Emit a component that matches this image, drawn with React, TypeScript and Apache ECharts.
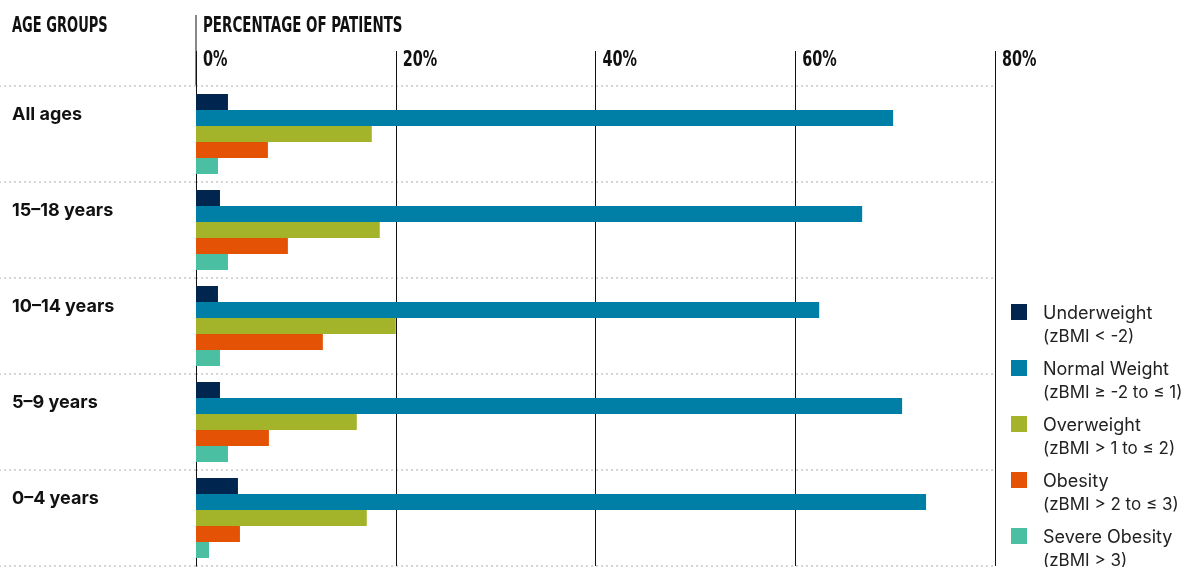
import React, { useEffect, useRef } from 'react';
import * as echarts from 'echarts';

const categories = ['All ages', '15–18 years', '10–14 years', '5–9 years', '0–4 years'];
const seriesNames = ['Underweight', 'Normal Weight', 'Overweight', 'Obesity', 'Severe Obesity'];
const seriesRanges = ['(zBMI < -2)', '(zBMI ≥ -2 to ≤ 1)', '(zBMI > 1 to ≤ 2)', '(zBMI > 2 to ≤ 3)', '(zBMI > 3)'];
const underweight = [3.2, 2.4, 2.2, 2.4, 4.2];
const normalWeight = [69.8, 66.7, 62.4, 70.7, 73.1];
const overweight = [17.6, 18.4, 20.0, 16.1, 17.1];
const obesity = [7.2, 9.2, 12.7, 7.3, 4.4];
const severeObesity = [2.2, 3.2, 2.4, 3.2, 1.3];
const seriesColors = ['#00254f', '#007fa6', '#a3b42b', '#e35205', '#4bbfa1'];
const xTicks = [0, 20, 40, 60, 80];
const xTickLabels = ['0%', '20%', '40%', '60%', '80%'];
const xMin = 0;
const xMax = 80;
const xInterval = 20;

const NARROW = '"Liberation Sans Narrow", "Arial Narrow", "DejaVu Sans Condensed", sans-serif';
const SANS = 'Inter, "Noto Sans", sans-serif';

export default function App() {
  const ref = useRef<HTMLDivElement>(null);
  useEffect(() => {
    if (!ref.current) return;
    const chart = echarts.init(ref.current, null, { renderer: 'svg' });
    const values = [underweight, normalWeight, overweight, obesity, severeObesity];
    const dotted = { color: '#d4d4d4', width: 2, type: [2, 3] as number[] };
    const headStyle = { fontFamily: NARROW, fontWeight: 'bold', fontSize: 22, fill: '#111', verticalAlign: 'middle' };
    chart.setOption({
      animation: false,
      grid: { left: 196, top: 86, width: 799, height: 480 },
      xAxis: {
        type: 'value',
        position: 'top',
        min: xMin,
        max: xMax,
        interval: xInterval,
        axisLine: { show: false },
        axisTick: { show: true, length: 35, lineStyle: { color: '#111', width: 1 } },
        splitLine: { show: true, lineStyle: { color: '#111', width: 1 } },
        axisLabel: { show: false },
      },
      yAxis: {
        type: 'category',
        inverse: true,
        data: categories,
        axisLine: { show: true, lineStyle: { color: '#111', width: 1 } },
        axisTick: { show: true, length: 196, interval: 0, lineStyle: dotted },
        splitLine: { show: true, interval: 0, lineStyle: dotted },
        axisLabel: {
          align: 'left',
          verticalAlign: 'middle',
          margin: 184,
          formatter: (v: string) => `{a|${v}}\n{b| }`,
          rich: {
            a: { fontFamily: SANS, fontWeight: 'bold', fontSize: 18, lineHeight: 22, color: '#111' },
            b: { fontSize: 2, lineHeight: 42 },
          },
        },
      },
      legend: {
        orient: 'vertical',
        left: 1011,
        top: 300,
        height: 300,
        padding: 0,
        itemGap: 8,
        itemWidth: 27,
        itemHeight: 40,
        icon: 'path://M0,0H16V16H0Z M0,40L27,40',
        data: seriesNames,
        formatter: (name: string) => `{a|${name}}\n{b|${seriesRanges[seriesNames.indexOf(name)]}}`,
        textStyle: {
          color: '#222',
          lineHeight: 24,
          rich: {
            a: { fontFamily: SANS, fontSize: 18, lineHeight: 24, color: '#222' },
            b: { fontFamily: SANS, fontSize: 17, lineHeight: 24, color: '#222' },
          },
        },
        selectedMode: false,
      },
      series: seriesNames.map((name, i) => ({
        name,
        type: 'bar',
        data: values[i],
        barWidth: 16,
        barGap: '0%',
        itemStyle: { color: seriesColors[i] },
      })),
    });
    const tickGraphics = xTicks.map((t, i) => ({
      type: 'text',
      id: 'xt' + i,
      x: (chart.convertToPixel({ xAxisIndex: 0 }, t) as number) + 7,
      y: 58.7,
      scaleX: 0.73,
      style: { ...headStyle, text: xTickLabels[i] },
    }));
    const x0 = chart.convertToPixel({ xAxisIndex: 0 }, xMin) as number;
    chart.setOption({
      graphic: [
        { type: 'text', id: 'h1', x: 12, y: 24.5, scaleX: 0.66, style: { ...headStyle, text: 'AGE GROUPS' } },
        { type: 'text', id: 'h2', x: 203, y: 24.5, scaleX: 0.68, style: { ...headStyle, text: 'PERCENTAGE OF PATIENTS' } },
        { type: 'line', id: 'l0', shape: { x1: x0, y1: 15, x2: x0, y2: 86 }, style: { stroke: '#111', lineWidth: 1 } },
        ...tickGraphics,
      ],
    });
    return () => chart.dispose();
  }, []);
  return <div ref={ref} style={{ position: 'fixed', left: 0, top: 0, width: 1185, height: 567 }} />;
}
